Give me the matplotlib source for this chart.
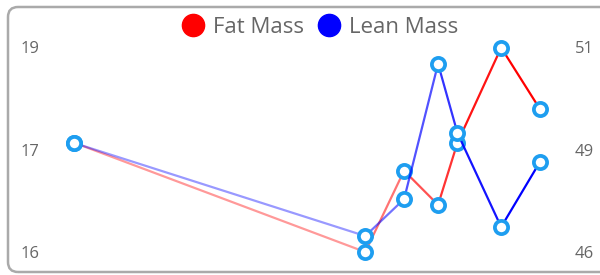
"""body composition chart: fat mass vs lean mass, two y axes"""
import numpy as np
import matplotlib.pyplot as plt
from matplotlib.lines import Line2D
from matplotlib.patches import FancyBboxPatch
from matplotlib.transforms import IdentityTransform

plt.rcParams['font.family'] = ['Open Sans', 'DejaVu Sans']

# measurement days (irregular spacing)
days = [0, 60, 68, 75, 79, 88, 96]
fat_mass = [17.6, 16.0, 17.19, 16.69, 17.6, 18.99, 18.09]
lean_mass = [48.66, 46.39, 47.29, 50.59, 48.9, 46.61, 48.2]

fat_ticks = [16, 17.5, 19]
fat_labels = ["16", "17", "19"]
lean_ticks = [46, 48.5, 51]
lean_labels = ["46", "49", "51"]

# lines fade in from left to right
seg_alpha = [0.4, 0.55, 0.68, 0.8, 0.92, 1.0]

ring = "#1e9ef0"
grey = "#666666"

fig = plt.figure(figsize=(6, 2.75), dpi=100)
W, H = 600, 275
left, right, top, bottom = 60, 555, 47, 252
ax = fig.add_axes([left / W, 1 - bottom / H, (right - left) / W, (bottom - top) / H])
ax2 = ax.twinx()

ax.set_xlim(-(74 - left) / 4.854, 96 + (right - 540) / 4.854)
ax.set_ylim(16, 19)
ax2.set_ylim(46, 51)


def draw(a, y, col):
    for i in range(len(days) - 1):
        a.plot(days[i:i + 2], y[i:i + 2], color=col, lw=1.6, alpha=seg_alpha[i],
               solid_capstyle="round", zorder=2)
    a.plot(days, y, ls="none", marker="o", ms=9.5, mew=2.7, mec=ring, mfc="white",
           clip_on=False, zorder=5)


draw(ax, fat_mass, "red")
draw(ax2, lean_mass, "blue")

for a in (ax, ax2):
    for s in a.spines.values():
        s.set_visible(False)
    a.set_xticks([])
ax.set_yticks(fat_ticks, fat_labels)
ax2.set_yticks(lean_ticks, lean_labels)
ax.tick_params(axis="y", length=0, pad=15, labelsize=12, labelcolor=grey)
ax2.tick_params(axis="y", length=0, pad=14, labelsize=12, labelcolor=grey)

box = FancyBboxPatch((8, 3), 640, 265, boxstyle="round,pad=0,rounding_size=10",
                     transform=IdentityTransform(), fill=False, ec="#aaaaaa", lw=1.8)
fig.patches.append(box)

handles = [Line2D([0], [0], marker="o", ls="none", ms=16, color="red", label="Fat Mass"),
           Line2D([0], [0], marker="o", ls="none", ms=16, color="blue", label="Lean Mass")]
fig.legend(handles=handles, loc="center", bbox_to_anchor=(320 / W, 1 - 27 / H), ncol=2,
           frameon=False, fontsize=16, labelcolor=grey, handletextpad=0.4,
           columnspacing=0.6, handlelength=1.0)

fig.savefig("out.png", dpi=100)
